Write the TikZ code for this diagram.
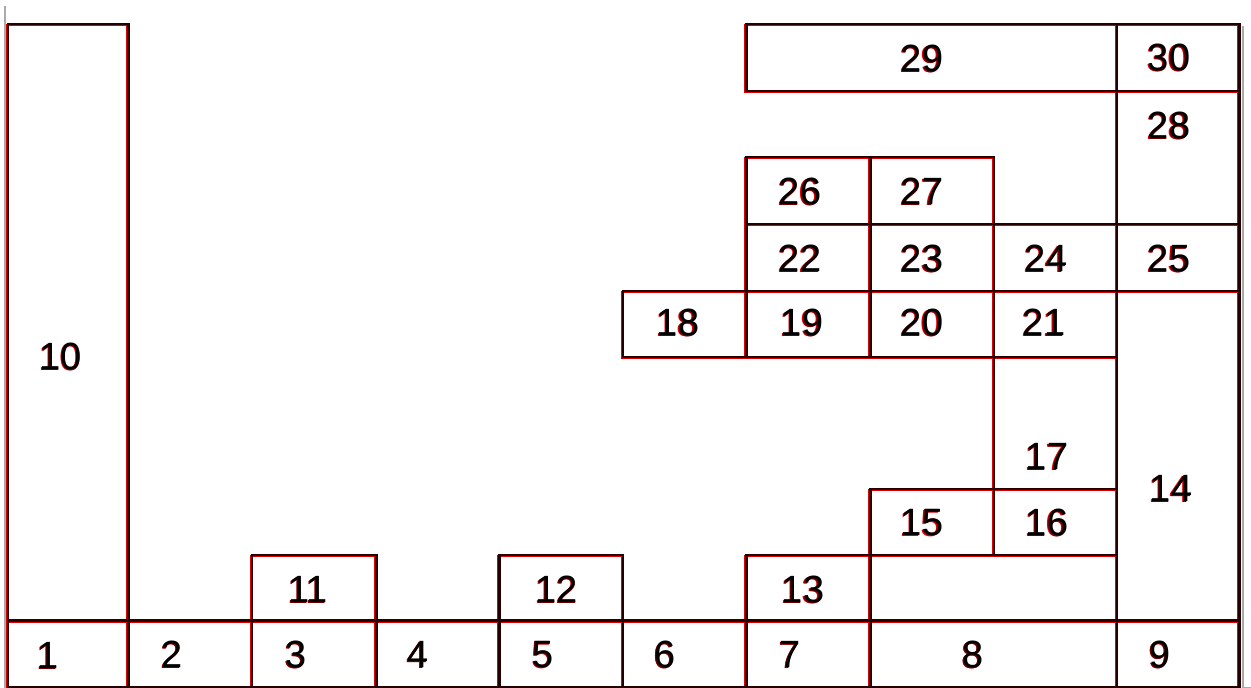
\documentclass[tikz,border=0pt]{standalone}
\usepackage{fontspec}
\setmainfont{Liberation Sans}
\definecolor{shadowred}{RGB}{225,0,0}
\definecolor{edgegray}{RGB}{170,170,170}
\newcommand{\shd}[1]{%
  \makebox[0pt][l]{\kern-1.2pt\raisebox{-1.2pt}{\textcolor{shadowred}{#1}}}%
  \makebox[0pt][l]{\kern-0.6pt\raisebox{-0.6pt}{\textcolor{shadowred!50!black}{#1}}}%
  #1}
\newcommand{\allboxes}{%
  % bottom row 1-9
  \draw (8,620.5) rectangle (128.5,687);
  \draw (128.5,620.5) rectangle (252,687);
  \draw (252,620.5) rectangle (376.5,687);
  \draw (376.5,620.5) rectangle (499.5,687);
  \draw (499.5,620.5) rectangle (623,687);
  \draw (623,620.5) rectangle (746.5,687);
  \draw (746.5,620.5) rectangle (870.5,687);
  \draw (870.5,620.5) rectangle (1117,687);
  \draw (1117,620.5) rectangle (1239.5,687);
  % 10
  \draw (8,24) rectangle (128.5,620.5);
  % 11 12 13
  \draw (252,555) rectangle (376.5,620.5);
  \draw (499.5,555) rectangle (623,620.5);
  \draw (746.5,555) rectangle (870.5,620.5);
  % 14
  \draw (1117,291) rectangle (1239.5,620.5);
  % 15 16 17
  \draw (870.5,489) rectangle (994,555);
  \draw (994,489) rectangle (1117,555);
  \draw (994,357) rectangle (1117,489);
  % 18-21
  \draw (623,291) rectangle (746.5,357);
  \draw (746.5,291) rectangle (870.5,357);
  \draw (870.5,291) rectangle (994,357);
  \draw (994,291) rectangle (1117,357);
  % 22-25
  \draw (746.5,224) rectangle (870.5,291);
  \draw (870.5,224) rectangle (994,291);
  \draw (994,224) rectangle (1117,291);
  \draw (1117,224) rectangle (1239.5,291);
  % 26 27 28
  \draw (746.5,157) rectangle (870.5,224);
  \draw (870.5,157) rectangle (994,224);
  \draw (1117,91) rectangle (1239.5,224);
  % 29 30
  \draw (746.5,24) rectangle (1117,91);
  \draw (1117,24) rectangle (1239.5,91);
}
\tikzset{
  lbl/.style={inner sep=0pt, font=\fontsize{38pt}{40pt}\selectfont, text=black},
  gridline/.style={line width=2.1pt}
}
\begin{document}
\begin{tikzpicture}[x=1pt,y=-1pt]
\useasboundingbox (0,0) rectangle (1251,688);
\fill[white] (0,0) rectangle (1251,688);
% gray page edges
\draw[edgegray, line width=2pt] (4.5,6) -- (4.5,688);
\draw[edgegray, line width=2pt] (1243,26) -- (1243,688);
\draw[edgegray, line width=1.5pt] (1243,687.5) -- (1251,687.5);
% red offset shadow of the grid
\begin{scope}[transform canvas={xshift=-1.2pt,yshift=-1.2pt}, gridline, draw=shadowred]
\allboxes
\end{scope}
% black grid
\begin{scope}[gridline, draw=black!85!red]
\allboxes
\end{scope}
% labels
\node[lbl] (l1) at (48,656) {\shd{1}};
\node[lbl] (l2) at (172,655) {\shd{2}};
\node[lbl] (l3) at (296,655) {\shd{3}};
\node[lbl] (l4) at (418,655) {\shd{4}};
\node[lbl] (l5) at (543,655) {\shd{5}};
\node[lbl] (l6) at (665,655) {\shd{6}};
\node[lbl] (l7) at (790,655) {\shd{7}};
\node[lbl] (l8) at (973,655) {\shd{8}};
\node[lbl] (l9) at (1160,655) {\shd{9}};
\node[lbl] (l10) at (61,357) {\shd{10}};
\node[lbl] (l11) at (308,590) {\shd{11}};
\node[lbl] (l12) at (557,590) {\shd{12}};
\node[lbl] (l13) at (803,590) {\shd{13}};
\node[lbl] (l14) at (1171,489) {\shd{14}};
\node[lbl] (l15) at (922,523) {\shd{15}};
\node[lbl] (l16) at (1047,523) {\shd{16}};
\node[lbl] (l17) at (1047,457) {\shd{17}};
\node[lbl] (l18) at (678,323) {\shd{18}};
\node[lbl] (l19) at (802,323) {\shd{19}};
\node[lbl] (l20) at (922,323) {\shd{20}};
\node[lbl] (l21) at (1044,323) {\shd{21}};
\node[lbl] (l22) at (800,259) {\shd{22}};
\node[lbl] (l23) at (922,259) {\shd{23}};
\node[lbl] (l24) at (1046,259) {\shd{24}};
\node[lbl] (l25) at (1169,259) {\shd{25}};
\node[lbl] (l26) at (800,192) {\shd{26}};
\node[lbl] (l27) at (922,192) {\shd{27}};
\node[lbl] (l28) at (1169,126) {\shd{28}};
\node[lbl] (l29) at (922,59) {\shd{29}};
\node[lbl] (l30) at (1169,58) {\shd{30}};
\end{tikzpicture}
\end{document}
